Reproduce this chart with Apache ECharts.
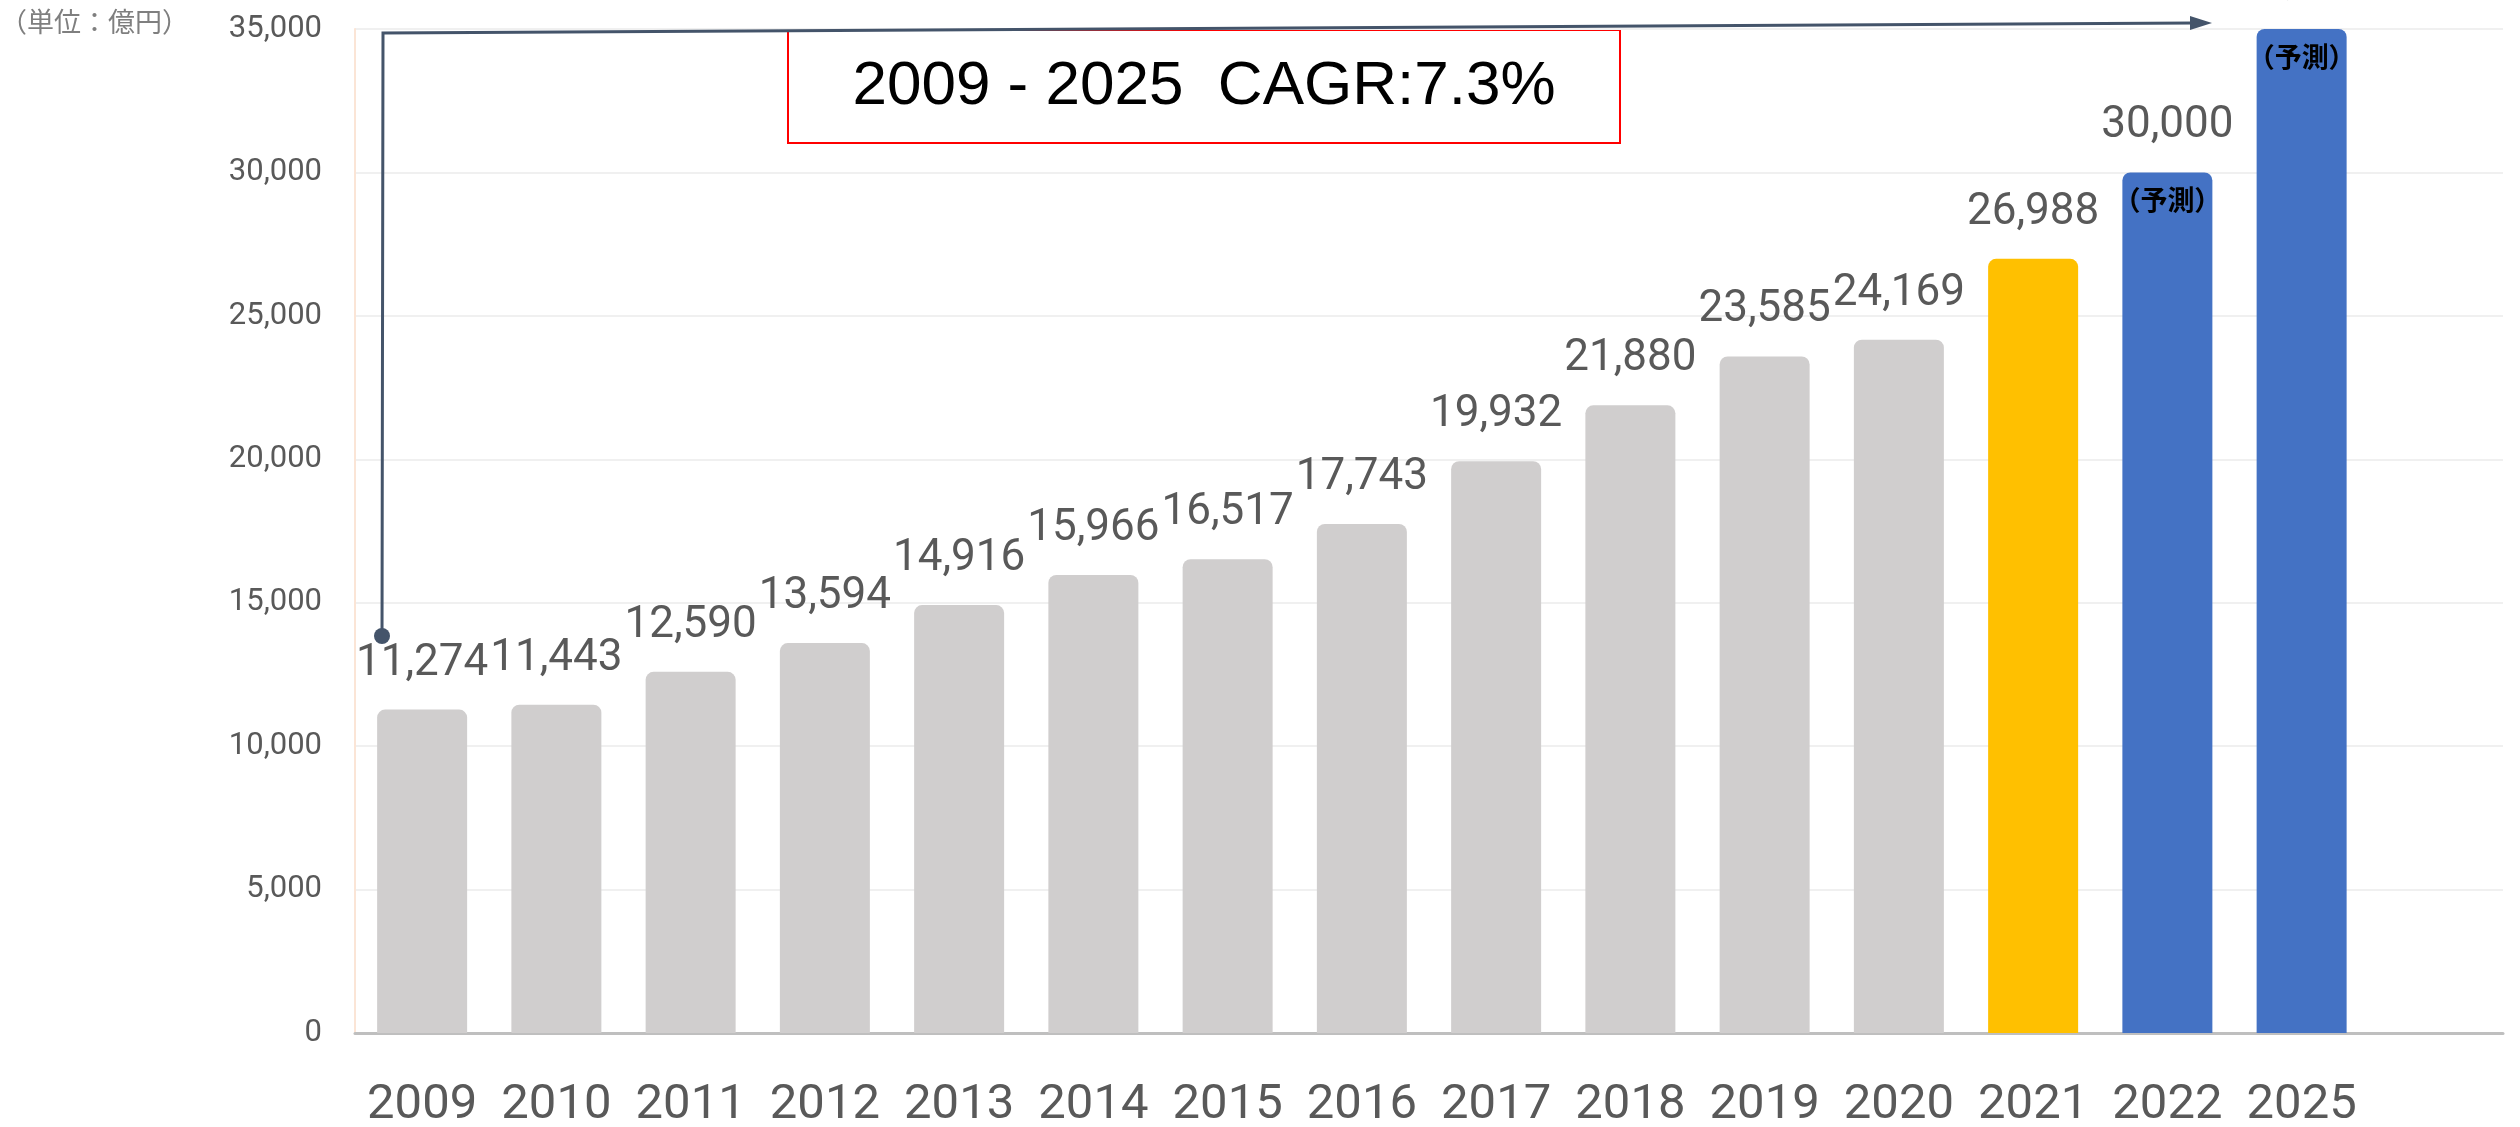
<!DOCTYPE html>
<html>
<head>
<meta charset="utf-8">
<title>市場規模推移</title>
<script src="https://cdn.jsdelivr.net/npm/echarts@6/dist/echarts.min.js"></script>
<style>
  html, body { margin: 0; padding: 0; background: #ffffff; }
  #chart { width: 2520px; height: 1127px; }
</style>
</head>
<body>
<div id="chart"></div>
<script>
// 年ごとの市場規模（単位：億円）
const years = ['2009', '2010', '2011', '2012', '2013', '2014', '2015', '2016',
               '2017', '2018', '2019', '2020', '2021', '2022', '2025', ''];
const values = [11274, 11443, 12590, 13594, 14916, 15966, 16517, 17743,
                19932, 21880, 23585, 24169, 26988, 30000, 35000, null];
// actual = 実績, latest = 直近実績, forecast = 予測
const kinds = ['actual', 'actual', 'actual', 'actual', 'actual', 'actual', 'actual', 'actual',
               'actual', 'actual', 'actual', 'actual', 'latest', 'forecast', 'forecast', null];
const yTicks = [0, 5000, 10000, 15000, 20000, 25000, 30000, 35000];
const unitLabel = '（単位：億円）';
const forecastLabel = '（予測）';
const cagrText = '2009 - 2025  CAGR:7.3%';

const kindColor = { actual: '#d0cece', latest: '#ffc000', forecast: '#4472c4' };
const fmt = v => Number(v).toLocaleString('en-US');
const numFont = 'Roboto, "Noto Sans", sans-serif';

const chart = echarts.init(document.getElementById('chart'));

chart.setOption({
  animation: false,
  backgroundColor: '#ffffff',
  grid: { left: 355, right: 17, top: 29, bottom: 94, containLabel: false, outerBoundsMode: 'none' },
  xAxis: {
    type: 'category',
    data: years,
    boundaryGap: true,
    axisTick: { show: false },
    axisLine: { show: true, lineStyle: { color: '#bfbfbf', width: 3 } },
    axisLabel: {
      interval: 0,
      color: '#595959',
      fontFamily: numFont,
      fontSize: 49,
      margin: 48
    },
    splitLine: { show: false }
  },
  yAxis: {
    type: 'value',
    min: yTicks[0],
    max: yTicks[yTicks.length - 1],
    interval: yTicks[1] - yTicks[0],
    axisLine: { show: true, lineStyle: { color: '#fbe5d6', width: 2 } },
    axisTick: { show: false },
    axisLabel: {
      color: '#595959',
      fontFamily: numFont,
      fontSize: 31,
      margin: 33,
      formatter: v => fmt(v)
    },
    splitLine: { show: true, lineStyle: { color: '#f0f0f0', width: 2 } }
  },
  series: [
    {
      name: '市場規模',
      type: 'bar',
      barWidth: 90,
      data: values.map((v, i) => v == null ? '-' : {
        value: v,
        itemStyle: { color: kindColor[kinds[i]], borderRadius: [8, 8, 0, 0] }
      }),
      label: {
        show: true,
        position: 'top',
        distance: 24,
        color: '#595959',
        fontFamily: numFont,
        fontSize: 44,
        formatter: p => fmt(p.value)
      }
    },
    {
      name: '予測',
      type: 'bar',
      barWidth: 90,
      barGap: '-100%',
      silent: true,
      data: values.map((v, i) => kinds[i] === 'forecast' ? v : '-'),
      itemStyle: { color: 'rgba(0,0,0,0)' },
      label: {
        show: true,
        position: 'insideTop',
        distance: 14,
        color: '#000000',
        fontFamily: '"Noto Sans CJK JP", sans-serif',
        fontWeight: 'bold',
        fontSize: 27,
        formatter: () => forecastLabel
      }
    }
  ],
  graphic: [
    {
      type: 'text',
      left: 0,
      top: 8,
      style: {
        text: unitLabel,
        fill: '#7f7f7f',
        font: '27px "Noto Sans CJK JP", sans-serif'
      }
    },
    // 2009年から2025年への成長を示す矢印
    {
      type: 'polyline',
      z: 10,
      shape: { points: [[382, 636], [383, 33], [2194, 23]] },
      style: { stroke: '#44546a', lineWidth: 3, fill: null }
    },
    {
      type: 'polygon',
      z: 10,
      shape: { points: [[2212, 23], [2190, 16], [2190, 30]] },
      style: { fill: '#44546a' }
    },
    {
      type: 'circle',
      z: 10,
      shape: { cx: 382, cy: 636, r: 8 },
      style: { fill: '#44546a' }
    },
    {
      type: 'group',
      z: 20,
      children: [
        {
          type: 'rect',
          shape: { x: 788, y: 30, width: 832, height: 113 },
          style: { fill: '#ffffff', stroke: '#ff0000', lineWidth: 2 }
        },
        {
          type: 'text',
          style: {
            x: 1204,
            y: 87,
            text: cagrText,
            align: 'center',
            verticalAlign: 'middle',
            fill: '#000000',
            font: '62px "Liberation Sans", Arial, sans-serif'
          }
        }
      ]
    }
  ]
});
</script>
</body>
</html>
